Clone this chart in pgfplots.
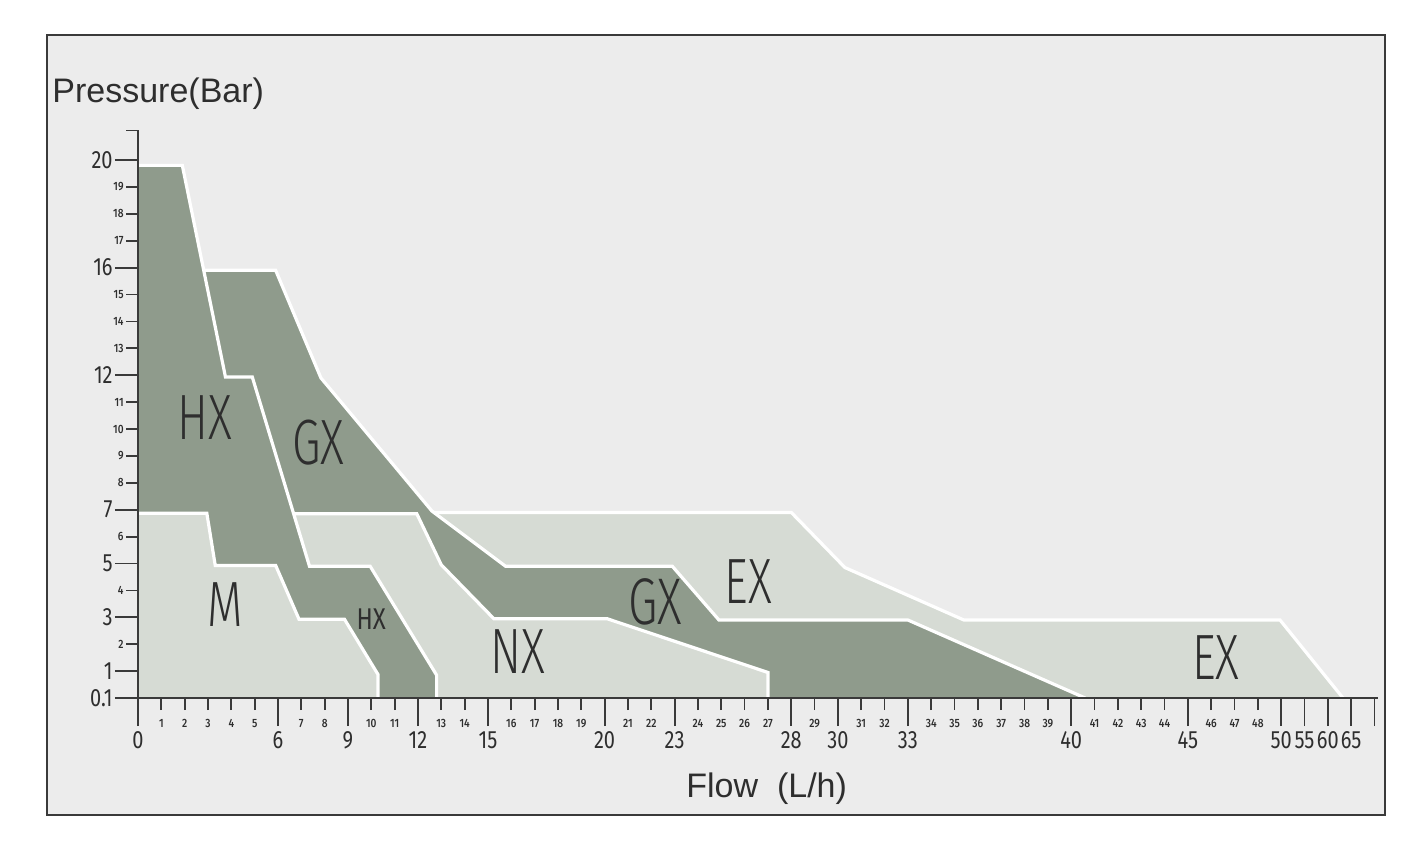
\documentclass[border=0pt]{standalone}
\usepackage{pgfplots}
\pgfplotsset{compat=1.18}
\usepackage{pgfplotstable}
\usepackage{fontspec}
\setmainfont{Liberation Sans}
\newfontfamily\condfont{Fira Sans}[FakeStretch=0.8]
\newfontfamily\medfont{Fira Sans Medium}[FakeStretch=0.85]
\newfontfamily\thinfont{Fira Sans Light}[FakeStretch=0.72]

\definecolor{bgc}{HTML}{ECECEC}
\definecolor{darkc}{HTML}{8F9B8C}
\definecolor{lightc}{HTML}{D6DBD4}
\definecolor{framec}{HTML}{3A3A3A}
\definecolor{txtc}{HTML}{2E2E2E}

% boundaries: x = flow scale position, y = pressure (bar)
\pgfplotstableread{
x y
0 6.9
28.0 6.9
30.3 4.85
35.4 2.9
48.95 2.9
51.65 0
}\ex
\pgfplotstableread{
x y
0 15.9
5.9 15.9
7.84 11.9
12.6 6.95
15.75 4.9
22.9 4.9
24.9 2.9
33.0 2.9
40.6 0
}\gx
\pgfplotstableread{
x y
0 6.85
11.95 6.85
13.0 4.95
15.25 2.95
20.1 2.95
27.0 0.95
27.0 0
}\nx
\pgfplotstableread{
x y
0 19.8
1.9 19.8
3.75 11.93
4.9 11.93
7.35 4.9
9.95 4.9
12.8 0.85
12.8 0
}\hx
\pgfplotstableread{
x y
0 6.87
2.95 6.87
3.31 4.93
5.9 4.93
6.9 2.93
8.85 2.93
10.29 0.87
10.29 0
}\mm

\begin{document}
\begin{tikzpicture}
\begin{scope}[x=0.5pt,y=-0.5pt]
\fill[white] (0,0) rectangle (1422,848);
\filldraw[fill=bgc, draw=framec, line width=1pt] (47,35) rectangle (1385,815);
\node[font=\fontsize{17}{19}\selectfont, text=txtc, anchor=base west, inner sep=0pt] at (52,102) {Pressure(Bar)};
\node[font=\fontsize{17}{19}\selectfont, text=txtc, anchor=base west, inner sep=0pt] at (686,797) {Flow\ \ (L/h)};
\end{scope}
\begin{axis}[
  at={(69pt,-349pt)}, anchor=south west,
  scale only axis, width=620pt, height=283.8pt,
  xmin=0, xmax=53.15, ymin=0, ymax=21.1,
  axis x line=bottom, axis y line=left,
  axis line style={-, line width=1.2pt, draw=framec},
  every outer x axis line/.append style={-},
  every outer y axis line/.append style={-},
  every inner x axis line/.append style={-},
  every inner y axis line/.append style={-},
  axis on top,
  tick align=outside,
  major tick length=6pt,
  tick style={line width=0.9pt, draw=framec},
  tick label style={font=\medfont\fontsize{6}{6.5}\selectfont, text=txtc, inner sep=1pt},
  xticklabel style={yshift=-3.5pt},
  xtick={1,2,3,4,5,7,8,10,11,13,14,16,17,18,19,21,22,24,25,26,27,29,31,32,34,35,36,37,38,39,41,42,43,44,46,47,48},
  xticklabels={1,2,3,4,5,7,8,10,11,13,14,16,17,18,19,21,22,24,25,26,27,29,31,32,34,35,36,37,38,39,41,42,43,44,46,47,48},
  extra x ticks={0,6,9,12,15,20,23,28,30,33,40,45,49,50,51,52,53},
  extra x tick labels={0,6,9,12,15,20,23,28,30,33,40,45,50,55,60,65,{}},
  extra x tick style={major tick length=14pt, tick label style={font=\condfont\fontsize{12.5}{13}\selectfont, yshift=2pt}},
  ytick={2,4,6,8,9,10,11,13,14,15,17,18,19,21.1},
  yticklabels={2,4,6,8,9,10,11,13,14,15,17,18,19,{}},
  extra y ticks={0,1,3,5,7,12,16,20},
  extra y tick labels={0.1,1,3,5,7,12,16,20},
  extra y tick style={major tick length=11.5pt, tick label style={font=\condfont\fontsize{12.5}{13}\selectfont}},
]
\addplot[fill=lightc, draw=none] table {\ex} \closedcycle;
\addplot[white, line width=1.6pt] table {\ex};
\addplot[fill=darkc, draw=none] table {\gx} \closedcycle;
\addplot[white, line width=1.6pt] table {\gx};
\addplot[fill=lightc, draw=none] table {\nx} \closedcycle;
\addplot[white, line width=1.6pt] table {\nx};
\addplot[fill=darkc, draw=none] table {\hx} \closedcycle;
\addplot[white, line width=1.6pt] table {\hx};
\addplot[fill=lightc, draw=none] table {\mm} \closedcycle;
\addplot[white, line width=1.6pt] table {\mm};

\node[font=\thinfont\fontsize{32}{32}\selectfont, text=txtc] at (axis cs:2.87,10.41) {HX};
\node[font=\thinfont\fontsize{32}{32}\selectfont, text=txtc] at (axis cs:7.72,9.48) {GX};
\node[font=\thinfont\fontsize{32}{32}\selectfont, text=txtc] at (axis cs:3.73,3.46) {M};
\node[font=\condfont\fontsize{15}{15}\selectfont, text=txtc] at (axis cs:10.0,2.93) {HX};
\node[font=\thinfont\fontsize{32}{32}\selectfont, text=txtc] at (axis cs:16.29,1.71) {NX};
\node[font=\thinfont\fontsize{33}{33}\selectfont, text=txtc] at (axis cs:22.16,3.57) {GX};
\node[font=\thinfont\fontsize{32}{32}\selectfont, text=txtc] at (axis cs:26.15,4.31) {EX};
\node[font=\thinfont\fontsize{32}{32}\selectfont, text=txtc] at (axis cs:46.2,1.52) {EX};
\end{axis}
\end{tikzpicture}
\end{document}
